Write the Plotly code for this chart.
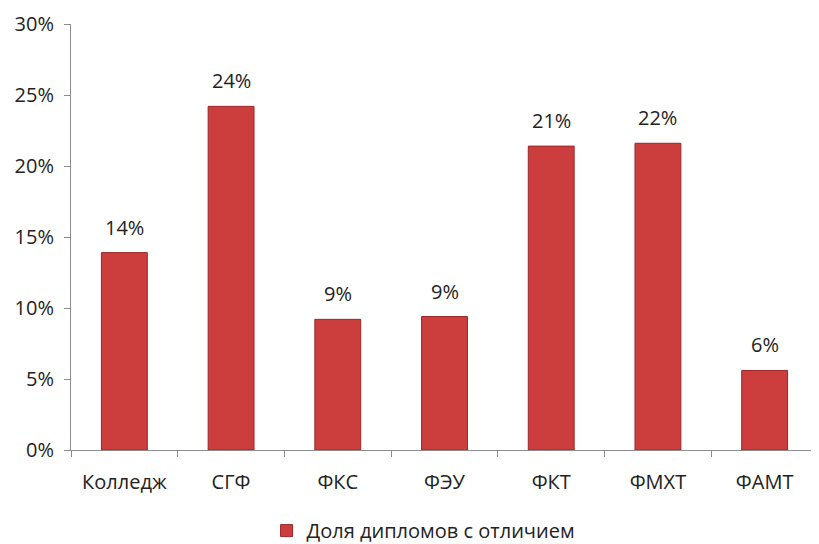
import plotly.graph_objects as go

categories = ["Колледж", "СГФ", "ФКС", "ФЭУ", "ФКТ", "ФМХТ", "ФАМТ"]
values = [0.139, 0.242, 0.092, 0.094, 0.214, 0.216, 0.056]
series_name = "Доля дипломов с отличием"
y_ticks = [0, 0.05, 0.10, 0.15, 0.20, 0.25, 0.30]

FONT = "Open Sans"
FS = 20
fig = go.Figure()
fig.add_trace(go.Bar(
    x=categories, y=values, name=series_name,
    marker=dict(color="#CC3D3D", line=dict(color="#9A2828", width=1)),
    width=0.43,
))
for c, v in zip(categories, values):
    fig.add_annotation(x=c, y=v, text=f"{round(v*100)}%", showarrow=False,
                       yanchor="bottom", yshift=10,
                       font=dict(family=FONT, size=FS, color="#222"))

fig.update_layout(
    width=811, height=536,
    margin=dict(l=63, r=1, t=16, b=94, autoexpand=False),
    paper_bgcolor="white", plot_bgcolor="white",
    font=dict(family=FONT, size=FS, color="#222"),
    showlegend=True,
    legend=dict(orientation="h", x=0.472, xanchor="center", yref="container",
                y=0.025, yanchor="middle",
                font=dict(family=FONT, size=FS, color="#222")),
)
fig.update_xaxes(showline=True, linecolor="#8c8c8c", linewidth=1,
                 ticks="outside", tickson="boundaries", ticklen=6, tickcolor="#8c8c8c",
                 showgrid=False, tickfont=dict(size=FS), automargin=False,
                 ticklabelstandoff=14)
fig.update_yaxes(range=[0, 0.3], tickvals=y_ticks, tickformat=".0%",
                 showline=True, linecolor="#8c8c8c", linewidth=1,
                 ticks="outside", ticklen=6, tickcolor="#8c8c8c",
                 showgrid=False, zeroline=False, tickfont=dict(size=FS), automargin=False,
                 ticklabelstandoff=6)
fig.write_html("out.html")
